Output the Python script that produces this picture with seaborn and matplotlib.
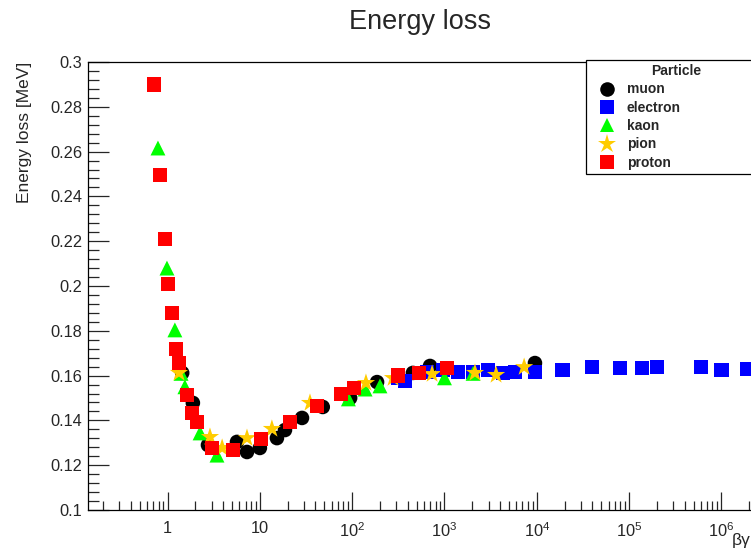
import numpy as np
import pandas as pd
import matplotlib
matplotlib.use("Agg")
import matplotlib.pyplot as plt
import seaborn as sns
from matplotlib.ticker import FixedLocator, NullFormatter, FuncFormatter, MultipleLocator

# ---------------- data ----------------
muon_bg = [1.44, 1.88, 2.74, 5.65, 7.25, 10.0, 15.3, 18.7, 28.6, 48, 95, 186, 455, 697, 9550]
muon_e = [0.1612, 0.1478, 0.129, 0.1304, 0.1259, 0.1277, 0.1321, 0.1357, 0.1411, 0.146,
          0.150, 0.1571, 0.1612, 0.1643, 0.1656]

electron_bg = [313, 373, 646, 960, 1410, 2040, 2960, 4300, 5800, 9550, 19000, 39600,
               80000, 138000, 200000, 600000, 1.0e6, 1.9e6]
electron_e = [0.1589, 0.1576, 0.1616, 0.1625, 0.1616, 0.1616, 0.1625, 0.1612, 0.1616,
              0.1616, 0.1625, 0.1638, 0.1634, 0.1634, 0.1638, 0.1638, 0.1625, 0.1629]

kaon_bg = [0.787, 0.985, 1.2, 1.4, 1.54, 2.25, 3.43, 91, 138, 200, 1000, 2040]
kaon_e = [0.2616, 0.208, 0.1804, 0.161, 0.155, 0.1344, 0.1245, 0.1496, 0.154, 0.1554,
          0.159, 0.161]

pion_bg = [1.33, 2.88, 3.9, 7.25, 13.5, 34.9, 141, 277, 734, 2140, 3620, 7290]
pion_e = [0.1612, 0.1326, 0.1277, 0.1321, 0.1362, 0.1478, 0.1567, 0.1589, 0.1607,
          0.1612, 0.1603, 0.1638]

proton_bg = [0.71, 0.83, 0.94, 1.01, 1.12, 1.23, 1.33, 1.62, 1.85, 2.08, 3.03, 5.11,
             10.3, 21.2, 41.7, 76, 105, 316, 532, 1070]
proton_e = [0.290, 0.2496, 0.221, 0.201, 0.188, 0.172, 0.1656, 0.1513, 0.1433, 0.1393,
            0.1277, 0.1268, 0.1317, 0.1393, 0.1464, 0.1518, 0.1545, 0.160, 0.1612, 0.1634]

particles = ["muon", "electron", "kaon", "pion", "proton"]
x_ticks = [1, 10, 1e2, 1e3, 1e4, 1e5, 1e6]
x_tick_labels = ["1", "10", "$10^{2}$", "$10^{3}$", "$10^{4}$", "$10^{5}$", "$10^{6}$"]

colors = {"muon": "#000000", "electron": "#0000ff", "kaon": "#00ff00",
          "pion": "#ffcc00", "proton": "#ff0000"}
markers = {"muon": "o", "electron": "s", "kaon": "^", "pion": "*", "proton": "s"}
sizes = {"muon": 110, "electron": 105, "kaon": 115, "pion": 190, "proton": 105}

frames = []
for name, bg, e in [("muon", muon_bg, muon_e), ("electron", electron_bg, electron_e),
                    ("kaon", kaon_bg, kaon_e), ("pion", pion_bg, pion_e),
                    ("proton", proton_bg, proton_e)]:
    frames.append(pd.DataFrame({"bg": bg, "eloss": e, "Particle": name}))
df = pd.concat(frames, ignore_index=True)

# ---------------- style ----------------
sns.set_style("ticks")
plt.rcParams["font.family"] = ["Liberation Sans", "DejaVu Sans"]
plt.rcParams["mathtext.fontset"] = "custom"
plt.rcParams["mathtext.rm"] = "Liberation Sans"
plt.rcParams["mathtext.it"] = "Liberation Sans:italic"

W, H = 751, 553
fig = plt.figure(figsize=(W / 100, H / 100), dpi=100)
ax = fig.add_axes([88 / W, (H - 510) / H, (756 - 88) / W, 448 / H])

sns.scatterplot(data=df, x="bg", y="eloss", hue="Particle", style="Particle",
                size="Particle", hue_order=particles, style_order=particles,
                size_order=particles, palette=colors, markers=markers, sizes=sizes,
                linewidth=0, edgecolor="none", ax=ax, legend=True)

ax.set_xscale("log")
ax.set_xlim(0.1374, 2.37e6)
ax.set_ylim(0.1, 0.3)

ax.xaxis.set_major_locator(FixedLocator(x_ticks))
ax.set_xticklabels(x_tick_labels)
minor = [m * 10.0 ** k for k in range(-1, 7) for m in range(2, 10)]
ax.xaxis.set_minor_locator(FixedLocator(minor))
ax.xaxis.set_minor_formatter(NullFormatter())

ax.yaxis.set_major_locator(MultipleLocator(0.02))
ax.yaxis.set_minor_locator(MultipleLocator(0.004))
ax.yaxis.set_major_formatter(FuncFormatter(lambda v, p: "%g" % round(v, 4)))

ax.tick_params(axis="x", which="major", direction="in", length=13, width=0.9,
               labelsize=11.8, pad=8, top=False)
ax.tick_params(axis="x", which="minor", direction="in", length=6.5, width=0.9, top=False)
ax.tick_params(axis="y", which="major", direction="in", length=15, width=0.9,
               labelsize=11.8, pad=4, right=False)
ax.tick_params(axis="y", which="minor", direction="in", length=8, width=0.9, right=False)
for sp in ax.spines.values():
    sp.set_visible(True)
    sp.set_linewidth(0.9)
    sp.set_color("black")

ax.set_xlabel("")
ax.set_ylabel("")
fig.text(25 / W, 1 - 62 / H, "Energy loss [MeV]", rotation=90, ha="center", va="top",
         fontsize=12.5)
fig.text(751 / W, 1 - 541 / H, "βγ", ha="right", va="center", fontsize=12.5)
fig.text(420 / W, 1 - 22 / H, "Energy loss", ha="center", va="center", fontsize=19.5)

handles, labels = ax.get_legend_handles_labels()
leg = ax.legend(handles, labels, title="Particle", loc="upper left",
                bbox_to_anchor=(586 / W, 0, 180 / W, 1 - 60 / H),
                bbox_transform=fig.transFigure, mode="expand", borderaxespad=0,
                frameon=True, fancybox=False, framealpha=1, edgecolor="black",
                prop={"weight": "bold", "size": 10}, labelspacing=0.31,
                handlelength=2.4, handletextpad=0.25, borderpad=0.3, markerscale=1.0)
leg.get_title().set_fontweight("bold")
leg.get_title().set_fontsize(10)
leg.get_frame().set_linewidth(0.9)

fig.savefig("out.png", dpi=100)
